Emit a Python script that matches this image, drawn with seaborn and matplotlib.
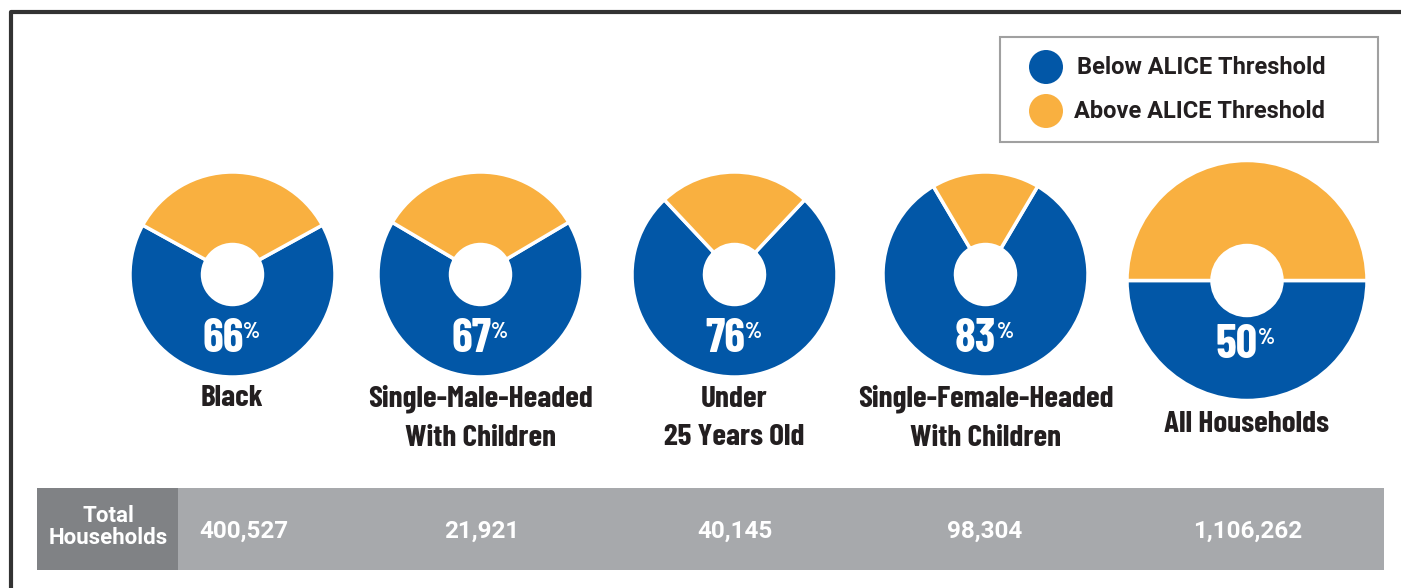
import matplotlib
matplotlib.use("Agg")
import matplotlib.pyplot as plt
from matplotlib.patches import Rectangle, Circle
import seaborn as sns

# Data
groups = ["Black", "Single-Male-Headed\nWith Children", "Under\n25 Years Old",
          "Single-Female-Headed\nWith Children", "All Households"]
below_pct = [66, 67, 76, 83, 50]
total_households = ["400,527", "21,921", "40,145", "98,304", "1,106,262"]
legend_labels = ["Below ALICE Threshold", "Above ALICE Threshold"]

BLUE = "#0257A7"
ORANGE = "#F9B040"
HEAD_GRAY = "#808285"
BODY_GRAY = "#A7A9AC"

sns.set_theme(style="white")
plt.rcParams["font.family"] = ["Roboto", "DejaVu Sans"]
cond = dict(family=["Barlow Condensed", "DejaVu Sans"])

W, H = 1401, 588
fig = plt.figure(figsize=(W / 100, H / 100), dpi=100)
ax = fig.add_axes([0, 0, 1, 1])


def py(y):
    # convert pixel y (top origin) to data y
    return H - y


# donut layout (pixel centres and radii)
centers_x = [232.5, 480.5, 734.5, 985.5, 1247]
centers_y = [274.5, 274.5, 274.5, 274.5, 280.5]
radii = [102.5, 102.5, 102.5, 102.5, 120]
holes = [30, 30, 30, 30, 35]
label_y = [398, 418.5, 418.5, 418.5, 425]
table_x = [244, 482, 735, 985, 1248]

for i, pct in enumerate(below_pct):
    cx, cy, r = centers_x[i], py(centers_y[i]), radii[i]
    frac = pct / 100
    ax.pie([pct, 100 - pct], colors=[BLUE, ORANGE], center=(cx, cy), radius=r,
           startangle=270 - 180 * frac, counterclock=True,
           wedgeprops=dict(width=r - holes[i], edgecolor="white", linewidth=2.5))
    # percentage
    ax.text(cx + 11, py(centers_y[i] + 65), f"{pct}", color="white", fontsize=34,
            fontweight="bold", ha="right", va="center", **cond)
    ax.text(cx + 11, py(centers_y[i] + 47), "%", color="white", fontsize=16,
            fontweight="bold", ha="left", va="top", **cond)
    ax.text(cx, py(label_y[i]), groups[i], color="#231F20", fontsize=22.5,
            fontweight="bold", ha="center", va="center", linespacing=1.55, **cond)

# table band
ax.add_patch(Rectangle((37, py(570)), 141, 82, color=HEAD_GRAY, lw=0))
ax.add_patch(Rectangle((178, py(570)), 1206, 82, color=BODY_GRAY, lw=0))
ax.text(108, py(527), "Total\nHouseholds", color="white", fontsize=16,
        fontweight="bold", ha="center", va="center", linespacing=0.95)
for i, val in enumerate(total_households):
    ax.text(table_x[i], py(531), val, color="white", fontsize=17.5,
            fontweight="bold", ha="center", va="center")

# legend box
ax.add_patch(Rectangle((1000, py(142)), 378, 105, facecolor="white",
                       edgecolor="#A0A0A0", lw=1.5))
for j, (lab, col) in enumerate(zip(legend_labels, [BLUE, ORANGE])):
    yy = py(67 + 44 * j)
    ax.add_patch(Circle((1046, yy), 17, color=col, lw=0))
    ax.text(1077 - 3 * j, yy, lab, color="#231F20", fontsize=17,
            fontweight="bold", ha="left", va="center")

# outer frame
ax.plot([10.5, 10.5, W + 5], [-5, py(12), py(12)], color="#333333", lw=3,
        solid_capstyle="butt")

ax.set_xlim(0, W)
ax.set_ylim(0, H)
ax.set_aspect("equal")
ax.axis("off")

fig.savefig("out.png", dpi=100)
